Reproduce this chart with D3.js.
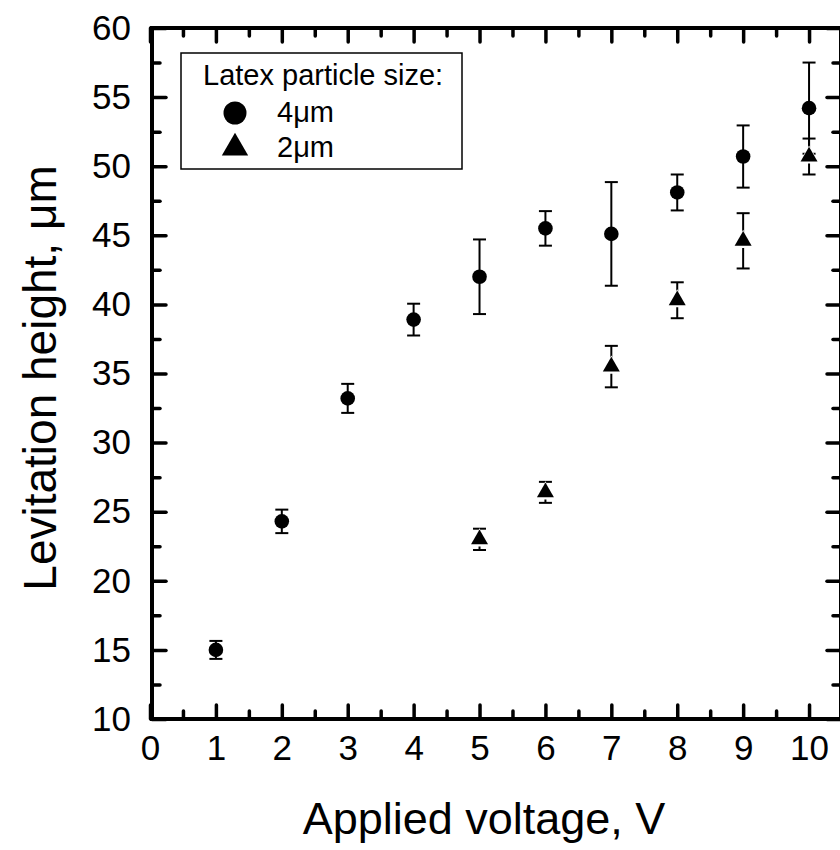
<!DOCTYPE html>
<html>
<head>
<meta charset="utf-8" />
<title>Levitation height vs applied voltage</title>
<style>
body { margin: 0; background: #fff; }
text { font-family: "Liberation Sans", Arial, sans-serif; fill: #000; }
.tick line { stroke: #000; stroke-width: 3.5px; stroke-linecap: round; }
.tick text { font-size: 35px; }
.err { stroke: #000; stroke-width: 2px; fill: none; }
</style>
</head>
<body>
<script src="https://cdn.jsdelivr.net/npm/d3@7/dist/d3.min.js"></script>
<script>
// applied voltage, V
var voltage4 = [1, 2, 3, 4, 5, 6, 7, 8, 9, 10];
var height4 = [15.0, 24.3, 33.2, 38.9, 42.0, 45.5, 45.1, 48.1, 50.7, 54.2];
var error4 = [0.65, 0.85, 1.05, 1.15, 2.7, 1.25, 3.75, 1.3, 2.25, 3.3];

var voltage2 = [5, 6, 7, 8, 9, 10];
var height2 = [23.0, 26.4, 35.5, 40.3, 44.6, 50.7];
var error2 = [0.77, 0.76, 1.5, 1.3, 2.0, 1.3];

var xTicks = [0, 1, 2, 3, 4, 5, 6, 7, 8, 9, 10];
var yTicks = [10, 15, 20, 25, 30, 35, 40, 45, 50, 55, 60];

var width = 840, height = 850;
var plotLeft = 152, plotTop = 28, plotRight = 841, plotBottom = 719;

var svg = d3.select("body").append("svg")
    .attr("width", width)
    .attr("height", height);

var x = d3.scaleLinear().domain([0, 10.5]).range([150, 842]);
var y = d3.scaleLinear().domain([10, 60]).range([plotBottom, plotTop]);

var xMinor = d3.range(0.5, 10.5, 1);
var yMinor = d3.range(12.5, 60, 5);

function drawAxis(axis, tx, ty) {
    var g = svg.append("g")
        .attr("transform", "translate(" + tx + "," + ty + ")")
        .call(axis);
    g.select(".domain").remove();
    return g;
}

// major + minor ticks on all four sides, pointing inward
drawAxis(d3.axisBottom(x).tickValues(xTicks).tickSize(-14).tickPadding(16).tickFormat(d3.format("d")), 0, plotBottom);
drawAxis(d3.axisBottom(x).tickValues(xMinor).tickSize(-8).tickFormat(""), 0, plotBottom);
drawAxis(d3.axisTop(x).tickValues(xTicks).tickSize(-14).tickFormat(""), 0, plotTop);
drawAxis(d3.axisTop(x).tickValues(xMinor).tickSize(-8).tickFormat(""), 0, plotTop);
drawAxis(d3.axisLeft(y).tickValues(yTicks).tickSize(-14).tickPadding(21).tickFormat(d3.format("d")), plotLeft, 0);
drawAxis(d3.axisLeft(y).tickValues(yMinor).tickSize(-8).tickFormat(""), plotLeft, 0);
drawAxis(d3.axisRight(y).tickValues(yTicks).tickSize(-14).tickFormat(""), plotRight, 0);
drawAxis(d3.axisRight(y).tickValues(yMinor).tickSize(-8).tickFormat(""), plotRight, 0);

svg.selectAll(".tick text").attr("fill", "#000");

// frame
svg.append("rect")
    .attr("x", plotLeft)
    .attr("y", plotTop)
    .attr("width", plotRight - plotLeft)
    .attr("height", plotBottom - plotTop)
    .attr("fill", "none")
    .attr("stroke", "#000")
    .attr("stroke-width", 4);

// axis titles
svg.append("text")
    .attr("x", 484)
    .attr("y", 834)
    .attr("text-anchor", "middle")
    .style("font-size", "45px")
    .text("Applied voltage, V");

svg.append("text")
    .attr("transform", "translate(56,378) rotate(-90)")
    .attr("text-anchor", "middle")
    .style("font-size", "46px")
    .text("Levitation height, \u03bcm");

function errorBars(xs, ys, es) {
    var g = svg.append("g");
    xs.forEach(function(v, i) {
        var cx = x(v), y1 = y(ys[i] - es[i]), y2 = y(ys[i] + es[i]);
        g.append("line").attr("class", "err")
            .attr("x1", cx).attr("x2", cx).attr("y1", y1).attr("y2", y2);
        g.append("line").attr("class", "err")
            .attr("x1", cx - 6.5).attr("x2", cx + 6.5).attr("y1", y1).attr("y2", y1);
        g.append("line").attr("class", "err")
            .attr("x1", cx - 6.5).attr("x2", cx + 6.5).attr("y1", y2).attr("y2", y2);
    });
}

errorBars(voltage4, height4, error4);
errorBars(voltage2, height2, error2);

svg.selectAll(".dot4")
    .data(voltage4)
  .enter().append("circle")
    .attr("class", "dot4")
    .attr("cx", function(d) { return x(d); })
    .attr("cy", function(d, i) { return y(height4[i]); })
    .attr("r", 7.3)
    .attr("fill", "#000");

// white halo under each triangle leaves the small gap seen above the lower whisker
var triHalo = d3.symbol().type(d3.symbolTriangle).size(190);
var tri = d3.symbol().type(d3.symbolTriangle).size(125);
svg.selectAll(".halo2")
    .data(voltage2)
  .enter().append("path")
    .attr("class", "halo2")
    .attr("d", triHalo)
    .attr("transform", function(d, i) { return "translate(" + x(d) + "," + (y(height2[i]) + 1) + ")"; })
    .attr("fill", "#fff");
svg.selectAll(".dot2")
    .data(voltage2)
  .enter().append("path")
    .attr("class", "dot2")
    .attr("d", tri)
    .attr("transform", function(d, i) { return "translate(" + x(d) + "," + y(height2[i]) + ")"; })
    .attr("fill", "#000");

// legend
var legend = svg.append("g");
legend.append("rect")
    .attr("x", 181).attr("y", 53)
    .attr("width", 281).attr("height", 116)
    .attr("fill", "#fff")
    .attr("stroke", "#000")
    .attr("stroke-width", 1.5);
legend.append("text")
    .attr("x", 203).attr("y", 85)
    .style("font-size", "29px")
    .text("Latex particle size:");
legend.append("circle")
    .attr("cx", 235).attr("cy", 113)
    .attr("r", 11.5)
    .attr("fill", "#000");
legend.append("text")
    .attr("x", 277).attr("y", 122)
    .style("font-size", "29px")
    .text("4\u03bcm");
legend.append("path")
    .attr("d", d3.symbol().type(d3.symbolTriangle).size(300))
    .attr("transform", "translate(235,148)")
    .attr("fill", "#000");
legend.append("text")
    .attr("x", 277).attr("y", 157)
    .style("font-size", "29px")
    .text("2\u03bcm");
</script>
</body>
</html>
